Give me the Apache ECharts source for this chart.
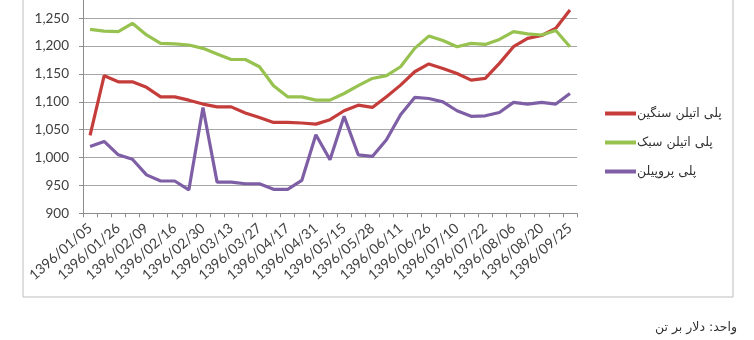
<!DOCTYPE html>
<html>
<head>
<meta charset="utf-8">
<script src="https://cdn.jsdelivr.net/npm/echarts@6/dist/echarts.min.js"></script>
<style>
html,body{margin:0;padding:0;background:#fff;}
#chart{width:754px;height:340px;}
</style>
</head>
<body>
<div id="chart"></div>
<script>
const categories = [
  '1396/01/05','1396/01/19','1396/01/26','1396/02/02','1396/02/09','1396/02/13','1396/02/16','1396/02/23',
  '1396/02/30','1396/03/06','1396/03/13','1396/03/20','1396/03/27','1396/04/10','1396/04/17','1396/04/24',
  '1396/04/31','1396/05/08','1396/05/15','1396/05/21','1396/05/28','1396/06/04','1396/06/11','1396/06/19',
  '1396/06/26','1396/07/03','1396/07/10','1396/07/16','1396/07/22','1396/07/29','1396/08/06','1396/08/13',
  '1396/08/20','1396/09/04','1396/09/25'
];
const seriesNames = ['پلی اتیلن سنگین', 'پلی اتیلن سبک', 'پلی پروپیلن'];
const hdpe = [1040,1147,1136,1136,1126,1109,1109,1103,1096,1091,1091,1080,1072,1063,1063,1062,1060,1068,1084,1094,1090,1109,1130,1154,1168,1160,1151,1139,1142,1169,1199,1214,1219,1232,1265];
const ldpe = [1230,1227,1226,1241,1220,1205,1204,1202,1196,1186,1176,1176,1163,1129,1109,1109,1103,1103,1115,1129,1142,1147,1163,1196,1218,1210,1199,1205,1203,1212,1226,1222,1220,1228,1199];
const pp   = [1020,1029,1005,997,969,958,958,942,1090,956,956,953,953,943,943,959,1041,996,1074,1005,1002,1032,1077,1108,1106,1100,1084,1074,1075,1081,1099,1096,1099,1096,1115];
const yTicks = {min: 900, max: 1300, interval: 50};
const unitText = 'واحد: دلار بر تن';

const colors = ['#C43D3B', '#97C24F', '#7E5FA6'];
const chart = echarts.init(document.getElementById('chart'), null, {renderer: 'canvas'});
const fontFam = 'Lato, "Open Sans", "DejaVu Sans", sans-serif';
const option = {
  animation: false,
  backgroundColor: '#fff',
  grid: {left: 83, right: 177, top: -9.6, bottom: 126.7, containLabel: false, outerBoundsMode: 'none'},
  graphic: [
    {type: 'rect', shape: {x: 23, y: -5, width: 710, height: 302}, style: {fill: 'none', stroke: '#BDBDBD', lineWidth: 1}, z: 0},
    {type: 'text', right: 17, top: 321, style: {text: unitText, font: '12.5px "DejaVu Sans", sans-serif', fill: '#333', textAlign: 'right'}}
  ],
  legend: {
    orient: 'vertical', left: 605, top: 107, padding: 0, itemWidth: 31, itemHeight: 4, itemGap: 16,
    icon: 'rect',
    textStyle: {fontFamily: '"DejaVu Sans", sans-serif', fontSize: 12.5, color: '#333', padding: [0,0,0,-4]},
    data: seriesNames
  },
  xAxis: {
    type: 'category', data: categories, boundaryGap: true,
    axisLine: {lineStyle: {color: '#8C8C8C', width: 1}},
    axisTick: {show: true, interval: 0, length: 4, lineStyle: {color: '#8C8C8C'}},
    axisLabel: {interval: 1, rotate: 41, margin: 13, fontSize: 14, color: '#404040', fontFamily: fontFam}
  },
  yAxis: {
    type: 'value', min: yTicks.min, max: yTicks.max, interval: yTicks.interval,
    axisLine: {show: true, lineStyle: {color: '#8C8C8C'}},
    axisTick: {show: true, length: 4, lineStyle: {color: '#8C8C8C'}},
    splitLine: {lineStyle: {color: '#A6A6A6', width: 1}},
    axisLabel: {margin: 14, fontSize: 13.5, color: '#404040', fontFamily: fontFam,
      formatter: v => v.toLocaleString('en-US')}
  },
  series: [
    {name: seriesNames[0], type: 'line', data: hdpe, color: colors[0], symbol: 'none', lineStyle: {width: 3.2}},
    {name: seriesNames[1], type: 'line', data: ldpe, color: colors[1], symbol: 'none', lineStyle: {width: 3.2}},
    {name: seriesNames[2], type: 'line', data: pp, color: colors[2], symbol: 'none', lineStyle: {width: 3.2}}
  ]
};
chart.setOption(option);
</script>
</body>
</html>
